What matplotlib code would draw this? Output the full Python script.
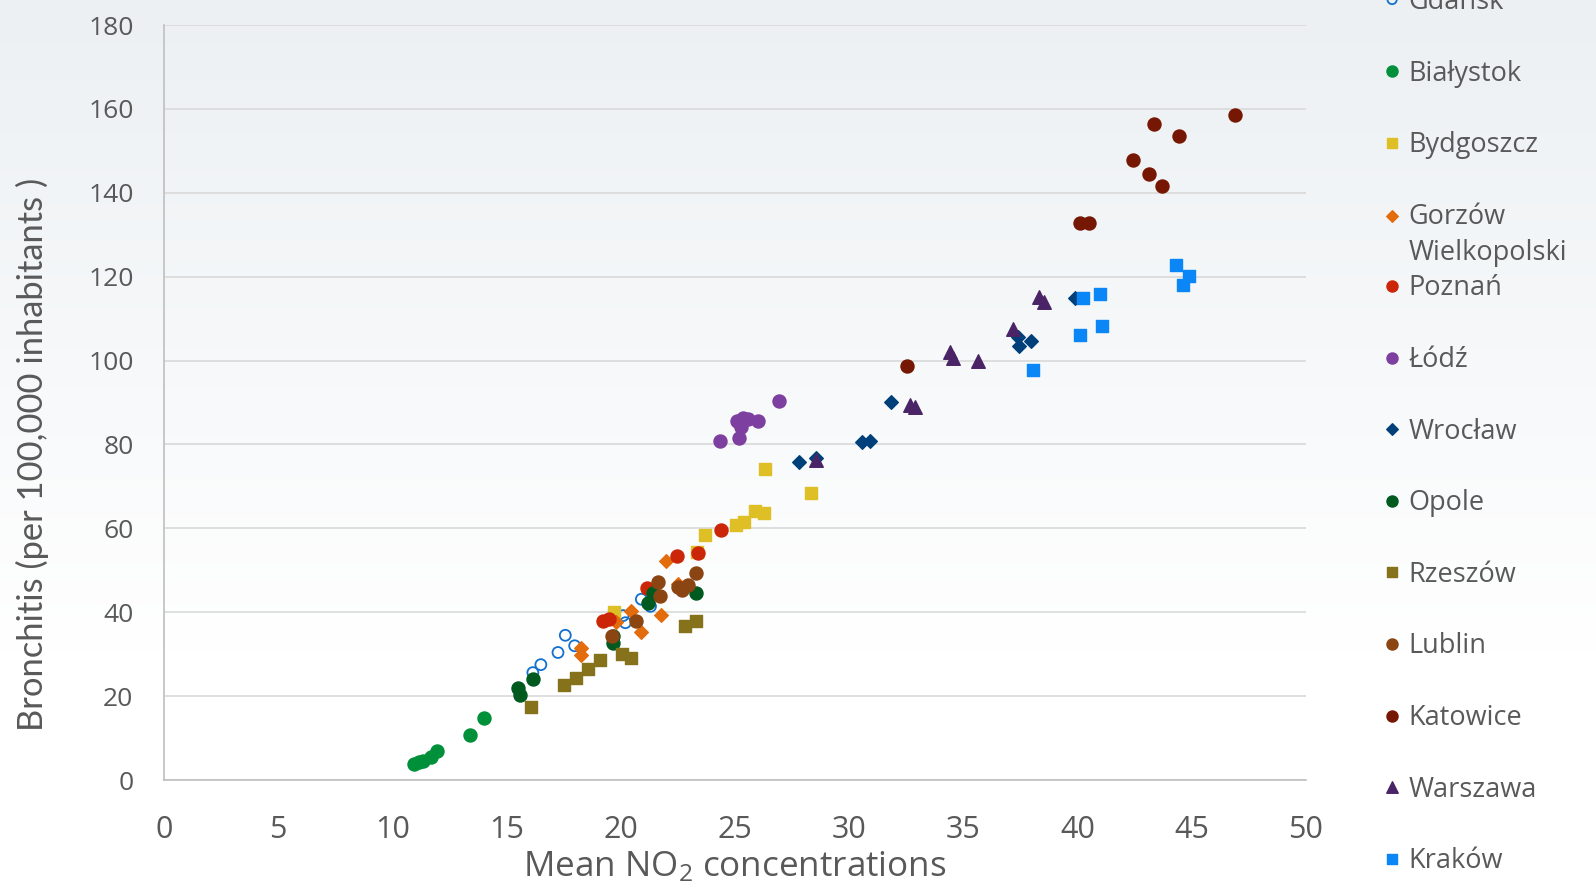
import numpy as np
import matplotlib
matplotlib.use("Agg")
import matplotlib.pyplot as plt
from matplotlib import font_manager as fm
from matplotlib.colors import LinearSegmentedColormap

# ---------------- data ----------------
city_names = ["Gdańsk", "Białystok", "Bydgoszcz", "Gorzów\nWielkopolski", "Poznań",
              "Łódź", "Wrocław", "Opole", "Rzeszów", "Lublin", "Katowice",
              "Warszawa", "Kraków"]

gdansk_x = [16.15, 16.5, 17.25, 17.57, 17.98, 20.1, 20.2, 20.9, 21.3]
gdansk_y = [25.6, 27.5, 30.4, 34.5, 32.0, 39.2, 37.5, 43.1, 41.4]

bialystok_x = [10.93, 11.18, 11.33, 11.7, 11.94, 13.38, 14.0]
bialystok_y = [3.7, 4.2, 4.5, 5.6, 6.8, 10.7, 14.7]

bydgoszcz_x = [19.7, 23.35, 23.7, 25.04, 25.4, 25.86, 26.27, 26.3, 28.33]
bydgoszcz_y = [40.0, 54.4, 58.4, 60.8, 61.4, 64.1, 63.6, 74.1, 68.5]

gorzow_x = [18.25, 18.27, 19.8, 20.44, 20.88, 21.74, 21.96, 22.5]
gorzow_y = [31.4, 29.8, 37.6, 40.3, 35.3, 39.4, 52.1, 46.8]

poznan_x = [19.2, 19.5, 21.13, 22.47, 23.4, 24.4]
poznan_y = [38.0, 38.3, 45.7, 53.3, 54.1, 59.6]

lodz_x = [24.34, 25.19, 25.1, 25.36, 25.58, 25.26, 26.0, 26.93]
lodz_y = [80.9, 81.6, 85.6, 86.4, 86.0, 84.2, 85.7, 90.4]

wroclaw_x = [27.82, 28.55, 30.56, 30.93, 31.84, 37.38, 37.44, 37.98, 39.9]
wroclaw_y = [75.7, 76.7, 80.5, 80.9, 90.1, 105.6, 103.5, 104.6, 114.9]

opole_x = [15.5, 15.6, 16.15, 19.66, 19.66, 21.2, 21.4, 23.3]
opole_y = [21.9, 20.3, 24.1, 34.4, 32.6, 42.2, 44.5, 44.5]

rzeszow_x = [16.05, 17.5, 18.03, 18.58, 19.1, 20.05, 20.44, 22.8, 23.28]
rzeszow_y = [17.5, 22.7, 24.4, 26.5, 28.7, 30.0, 29.2, 36.6, 38.0]

lublin_x = [19.63, 20.66, 21.64, 21.7, 22.5, 22.7, 22.95, 23.29]
lublin_y = [34.4, 37.8, 47.3, 43.9, 46.0, 45.2, 46.5, 49.3]

katowice_x = [32.53, 40.1, 40.5, 42.43, 43.11, 43.68, 43.33, 44.42, 46.89]
katowice_y = [98.7, 132.9, 132.8, 147.9, 144.5, 141.6, 156.4, 153.5, 158.6]

warszawa_x = [28.55, 32.68, 32.9, 34.43, 34.55, 35.64, 37.16, 38.3, 38.52]
warszawa_y = [76.3, 89.4, 89.0, 102.1, 100.7, 99.9, 107.6, 115.2, 114.0]

krakow_x = [38.06, 40.1, 40.25, 41.0, 41.05, 44.33, 44.86, 44.63]
krakow_y = [97.7, 106.0, 115.0, 115.8, 108.3, 122.9, 120.2, 118.1]

x_ticks = [0, 5, 10, 15, 20, 25, 30, 35, 40, 45, 50]
y_ticks = [0, 20, 40, 60, 80, 100, 120, 140, 160, 180]

# ---------------- styles ----------------
series = [
    (gdansk_x, gdansk_y, dict(marker="o", s=62, facecolors="none", edgecolors="#1170CF", linewidths=1.3)),
    (bialystok_x, bialystok_y, dict(marker="o", s=88, color="#00903A")),
    (bydgoszcz_x, bydgoszcz_y, dict(marker="s", s=80, color="#DFBF26")),
    (gorzow_x, gorzow_y, dict(marker="D", s=48, color="#E36C0C")),
    (poznan_x, poznan_y, dict(marker="o", s=88, color="#CC2608")),
    (lodz_x, lodz_y, dict(marker="o", s=88, color="#7D3FA0")),
    (wroclaw_x, wroclaw_y, dict(marker="D", s=48, color="#00407A")),
    (opole_x, opole_y, dict(marker="o", s=88, color="#005A1F")),
    (rzeszow_x, rzeszow_y, dict(marker="s", s=80, color="#85721A")),
    (lublin_x, lublin_y, dict(marker="o", s=88, color="#8B4513")),
    (katowice_x, katowice_y, dict(marker="o", s=88, color="#761703")),
    (warszawa_x, warszawa_y, dict(marker="^", s=95, color="#4A2466")),
    (krakow_x, krakow_y, dict(marker="s", s=80, color="#0A86F6")),
]

available = {f.name for f in fm.fontManager.ttflist}
main_font = "Open Sans" if "Open Sans" in available else "DejaVu Sans"
ylab_font = "Liberation Sans Narrow" if "Liberation Sans Narrow" in available else "Lato"

plt.rcParams["font.family"] = [main_font, "DejaVu Sans"]
plt.rcParams["mathtext.default"] = "regular"
text_color = "#595959"

W, H = 1596, 890
fig = plt.figure(figsize=(W / 100, H / 100), dpi=100)

# background gradient
bg = fig.add_axes([0, 0, 1, 1], zorder=-10)
cmap = LinearSegmentedColormap.from_list("bg", [(0, "#FFFFFF"), (0.27, "#FFFFFF"), (1, "#ECF0F3")])
grad = np.linspace(0, 1, 256).reshape(-1, 1)
bg.imshow(grad, aspect="auto", cmap=cmap, origin="lower", extent=[0, 1, 0, 1])
bg.set_axis_off()

left, right, top, bottom = 164, 1306, 25, 780
ax = fig.add_axes([left / W, 1 - bottom / H, (right - left) / W, (bottom - top) / H])
ax.set_facecolor("none")

for (xs, ys, kw), name in zip(series, city_names):
    ax.scatter(xs, ys, label=name, zorder=3, **kw)

ax.set_xlim(0, 50)
ax.set_ylim(0, 180)
ax.set_xticks(x_ticks)
ax.set_yticks(y_ticks)
ax.set_xticklabels([str(v) for v in x_ticks])
ax.set_yticklabels([str(v) for v in y_ticks])
ax.tick_params(axis="both", length=0, labelcolor=text_color)
ax.tick_params(axis="y", pad=22, labelsize=19)
ax.tick_params(axis="x", pad=25, labelsize=22)
ax.grid(axis="y", color="#D9D9D9", linewidth=1.2)
ax.set_axisbelow(True)
for side in ["top", "right"]:
    ax.spines[side].set_visible(False)
for side in ["left", "bottom"]:
    ax.spines[side].set_color("#BFBFBF")
    ax.spines[side].set_linewidth(1.2)

ax.set_xlabel("Mean NO$_2$ concentrations", fontsize=25.2, color=text_color, va="baseline")
ax.xaxis.set_label_coords(0.5, (bottom - 876) / (bottom - top))
ax.set_ylabel("Bronchitis (per 100,000 inhabitants )", fontsize=24.8, color=text_color,
              family=[ylab_font, "DejaVu Sans"], va="center", ha="center")
ax.yaxis.set_label_coords((32.6 - left) / (right - left), (bottom - 454) / (bottom - top))

# legend: one entry per row, evenly spaced like the original
handles, labels = ax.get_legend_handles_labels()
row0, step = 2.0, 71.6
for i, (h, lab) in enumerate(zip(handles, labels)):
    py = row0 + step * i
    yoff = [0.5]
    if "\n" in lab:
        py += 18.5
        yoff = [1.55]
    leg = fig.legend([h], [lab], loc="center left", bbox_to_anchor=(1384 / W, 1 - py / H),
                     frameon=False, borderpad=0, borderaxespad=0, handlelength=0.6,
                     handletextpad=0.3, markerscale=0.85, scatterpoints=1,
                     scatteryoffsets=yoff, fontsize=19.5, labelcolor=text_color)
    leg.get_texts()[0].set_linespacing(1.38)

fig.savefig("out.png", dpi=100)
